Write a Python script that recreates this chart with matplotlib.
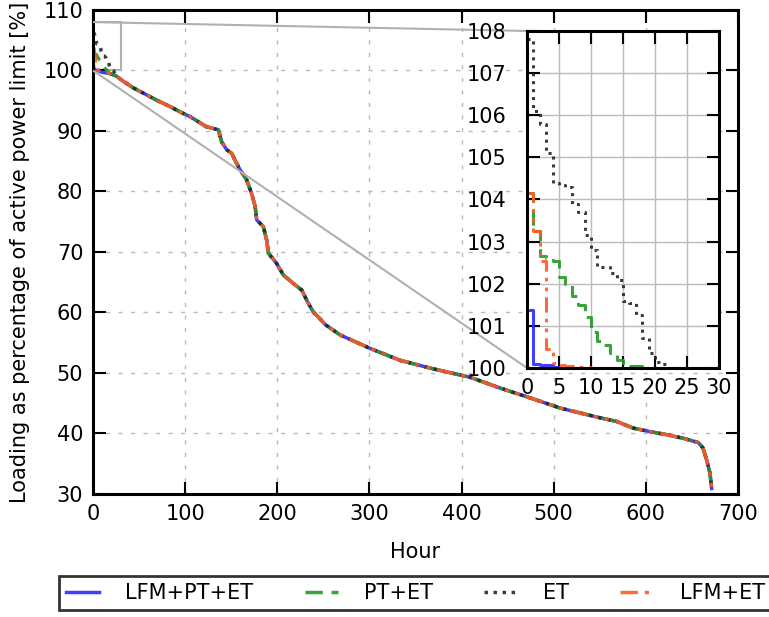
import matplotlib
matplotlib.use("Agg")
import matplotlib.pyplot as plt
from mpl_toolkits.axes_grid1.inset_locator import mark_inset

# ---------------- data ----------------
# common (overlapping) part of the duration curves: hour, loading [%]
common_h = [10, 18, 25, 33, 44, 69, 84, 94, 105, 123, 136, 139.6, 145, 150.5, 154, 159.5,
            166.8, 172, 176, 177.6, 184.8, 188.4, 190.3, 199.3, 206.5, 217.4, 226.5, 233.7,
            239, 246, 252, 268, 300, 333, 366, 409, 442, 474, 507, 550, 568, 586, 604.5,
            622.6, 640.7, 657, 662, 666, 669.6, 671.4]
common_v = [99.7, 99.5, 99.1, 98.2, 97.1, 95.1, 94.0, 93.2, 92.4, 90.7, 90.2, 88.2, 86.9,
            86.3, 85.2, 83.6, 81.9, 79.7, 77.5, 75.3, 74.2, 72.0, 69.8, 68.1, 66.2, 64.8,
            63.7, 61.5, 60.1, 59.0, 58.0, 56.3, 54.1, 52.1, 50.8, 49.3, 47.5, 45.9, 44.2,
            42.6, 42.0, 40.9, 40.3, 39.8, 39.2, 38.5, 37.6, 35.6, 33.4, 30.9]

# hourly values of the highest hours for each case
head_lfm_pt_et = [101.38, 100.1, 100.08, 100.06, 100.03, 100.0]
head_pt_et = [104.15, 103.25, 102.65, 102.6, 102.55, 102.15, 102.0, 101.7, 101.5, 101.2,
              100.85, 100.65, 100.55, 100.35, 100.2, 100.05]
head_et = [107.8, 106.1, 105.8, 105.1, 104.4, 104.35, 104.3, 103.9, 103.7, 103.15, 102.8,
           102.4, 102.4, 102.25, 102.1, 101.6, 101.55, 101.25, 100.7, 100.35, 100.15, 100.1,
           100.0]
head_lfm_et = [104.15, 103.25, 102.55, 100.45, 100.12, 100.06, 100.05, 100.04, 100.03,
               100.02, 100.0]

labels = ["LFM+PT+ET", "PT+ET", "ET", "LFM+ET"]
heads = [head_lfm_pt_et, head_pt_et, head_et, head_lfm_et]
colors = ["#2a2aff", "#239a23", "#262626", "#ff5a24"]
styles = ["-", (0, (5, 2.5)), (0, (1, 1.6)), (0, (5, 2, 1.2, 2, 1.2, 2))]

main_xticks = [0, 100, 200, 300, 400, 500, 600, 700]
main_yticks = [30, 40, 50, 60, 70, 80, 90, 100, 110]
inset_xticks = [0, 5, 10, 15, 20, 25, 30]
inset_yticks = [100, 101, 102, 103, 104, 105, 106, 107, 108]


def series(head):
    n = len(head)
    xs = list(range(n))
    ys = list(head)
    for h, v in zip(common_h, common_v):
        if h > n - 1:
            xs.append(h)
            ys.append(v)
    return xs, ys


plt.rcParams["font.family"] = "DejaVu Sans"
plt.rcParams["font.size"] = 15

fig = plt.figure(figsize=(7.69, 6.17), dpi=100)
ax = fig.add_axes([0.121, 0.1994, 0.8387, 0.7844])

lines = []
for head, lab, c, ls in zip(heads, labels, colors, styles):
    xs, ys = series(head)
    ln, = ax.plot(xs, ys, color=c, linestyle=ls, lw=2.5, label=lab, alpha=0.9)
    lines.append(ln)

ax.set_xlim(0, 700)
ax.set_ylim(30, 110)
ax.set_xticks(main_xticks)
ax.set_yticks(main_yticks)
ax.set_xlabel("Hour", labelpad=13)
ax.set_ylabel("Loading as percentage of active power limit [%]", labelpad=10)
ax.grid(True, color="#bbbbbb", linestyle=(0, (3, 6)), lw=1)
ax.tick_params(direction="in", top=True, right=True, length=9, width=1.5, pad=7)
for s in ax.spines.values():
    s.set_linewidth(2.2)

# inset
axins = fig.add_axes([0.6853, 0.4036, 0.2497, 0.5462])
for head, lab, c, ls in zip(heads, labels, colors, styles):
    xs, ys = series(head)
    axins.plot(xs, ys, color=c, linestyle=ls, lw=2.2, drawstyle="steps-post", alpha=0.9)
axins.set_xlim(0, 30)
axins.set_ylim(100, 108)
axins.set_xticks(inset_xticks)
axins.set_yticks(inset_yticks)
axins.grid(True, color="#bbbbbb", linestyle="-", lw=1)
axins.tick_params(direction="in", top=True, right=True, length=9, width=1.5)
axins.tick_params(axis="x", pad=7)
axins.tick_params(axis="y", pad=15)
for s in axins.spines.values():
    s.set_linewidth(2.2)

mark_inset(ax, axins, loc1=2, loc2=3, fc="none", ec="#b0b0b0", lw=1.5)

leg = ax.legend(handles=lines, loc="upper center", bbox_to_anchor=(0.5, -0.147), ncol=4,
                fancybox=False, frameon=True, handlelength=1.6, handletextpad=1.25,
                columnspacing=2.45, borderpad=0.35, fontsize=15)
leg.get_frame().set_edgecolor("black")
leg.get_frame().set_linewidth(2.0)

fig.savefig("out.png", dpi=100)
